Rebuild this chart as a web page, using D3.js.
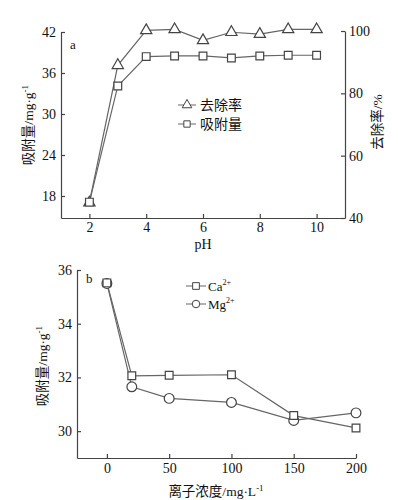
<!DOCTYPE html>
<html><head><meta charset="utf-8">
<script src="https://cdn.jsdelivr.net/npm/d3@7"></script>
<style>
body{margin:0;background:#fff}
text{font-family:"Liberation Serif","Noto Sans CJK SC",serif;fill:#111}
</style></head>
<body><svg id="c" width="398" height="500"></svg>
<script>
// Chart a data
const pH = [2,3,4,5,6,7,8,9,10];
const adsorptionA = [17.1,34.1,38.4,38.5,38.5,38.2,38.5,38.6,38.6];
const removalA = [44.9,89.0,100.2,100.5,97.0,99.6,99.0,100.5,100.5];
const xTicksA = [2,4,6,8,10];
const yLeftTicksA = [18,24,30,36,42];
const yRightTicksA = [40,60,80,100];
// Chart b data
const conc = [0,20,50,100,150,200];
const ca = [35.52,32.06,32.08,32.1,30.58,30.12];
const mg = [35.5,31.65,31.22,31.07,30.4,30.68];
const xTicksB = [0,50,100,150,200];
const yTicksB = [30,32,34,36];

const svg = d3.select("#c");
const axisCol = "#444", lineCol = "#666", mkCol = "#444";

function styleAxis(g){
  g.select(".domain").attr("stroke",axisCol).attr("stroke-width",1.2);
  g.selectAll(".tick line").attr("stroke",axisCol).attr("stroke-width",1.2);
  g.selectAll(".tick text").style("font-size","14px").attr("fill","#111");
}

// ---------- Chart a ----------
const xa = d3.scaleLinear().domain([1,11]).range([61,345]);
const yl = d3.scaleLinear().domain([14.78,42]).range([218,32]);
const yr = d3.scaleLinear().domain([40,100]).range([218,31]);

const gxA = svg.append("g").attr("transform","translate(0,218)")
  .call(d3.axisBottom(xa).tickValues(xTicksA).tickFormat(d3.format("d")).tickSizeInner(-4).tickSizeOuter(0).tickPadding(4));
styleAxis(gxA);
const glA = svg.append("g").attr("transform","translate(61,0)")
  .call(d3.axisLeft(yl).tickValues(yLeftTicksA).tickFormat(d3.format("d")).tickSizeInner(-4).tickSizeOuter(0).tickPadding(5));
styleAxis(glA);
const grA = svg.append("g").attr("transform","translate(345,0)")
  .call(d3.axisRight(yr).tickValues(yRightTicksA).tickFormat(d3.format("d")).tickSizeInner(-4).tickSizeOuter(0).tickPadding(4));
styleAxis(grA);

const lineRem = d3.line().x((d,i)=>xa(pH[i])).y(d=>yr(d));
const lineAds = d3.line().x((d,i)=>xa(pH[i])).y(d=>yl(d));
svg.append("path").attr("d",lineRem(removalA)).attr("fill","none").attr("stroke",lineCol).attr("stroke-width",1.2);
svg.append("path").attr("d",lineAds(adsorptionA)).attr("fill","none").attr("stroke",lineCol).attr("stroke-width",1.2);

const tri = d3.symbol().type(d3.symbolTriangle).size(55);
const sq = d3.symbol().type(d3.symbolSquare).size(60);
const circ = d3.symbol().type(d3.symbolCircle).size(75);

svg.selectAll(".tri").data(removalA).enter().append("path")
  .attr("d",tri).attr("transform",(d,i)=>`translate(${xa(pH[i])},${yr(d)})`)
  .attr("fill","#fff").attr("stroke",mkCol).attr("stroke-width",1.2);
svg.selectAll(".sq").data(adsorptionA).enter().append("path")
  .attr("d",sq).attr("transform",(d,i)=>`translate(${xa(pH[i])},${yl(d)})`)
  .attr("fill","#fff").attr("stroke",mkCol).attr("stroke-width",1.2);

svg.append("text").attr("x",70).attr("y",49).style("font-size","13px").text("a");

// legend a
const legA = [{t:"去除率",type:d3.symbolTriangle,y:105},{t:"吸附量",type:d3.symbolSquare,y:124}];
legA.forEach(l=>{
  svg.append("line").attr("x1",178).attr("x2",196).attr("y1",l.y).attr("y2",l.y).attr("stroke",lineCol).attr("stroke-width",1);
  svg.append("path").attr("d",d3.symbol().type(l.type).size(40)()).attr("transform",`translate(187,${l.y})`).attr("fill","#fff").attr("stroke",mkCol);
  svg.append("text").attr("x",200).attr("y",l.y+5).style("font-size","14px").text(l.t);
});

// axis titles a
const tl = svg.append("text").attr("transform","translate(33,125) rotate(-90)").attr("text-anchor","middle").style("font-size","13.5px");
tl.append("tspan").text("吸附量/mg·g");
tl.append("tspan").attr("dy",-5).style("font-size","9px").text("-1");
svg.append("text").attr("transform","translate(382,122) rotate(-90)").attr("text-anchor","middle").style("font-size","13.5px").text("去除率/%");
svg.append("text").attr("x",203).attr("y",249).attr("text-anchor","middle").style("font-size","14px").text("pH");

// ---------- Chart b ----------
const xb = d3.scaleLinear().domain([-24,200]).range([77,356]);
const yb = d3.scaleLinear().domain([29,36]).range([458,270]);

const gxB = svg.append("g").attr("transform","translate(0,458)")
  .call(d3.axisBottom(xb).tickValues(xTicksB).tickFormat(d3.format("d")).tickSizeInner(-4).tickSizeOuter(0).tickPadding(5));
styleAxis(gxB);
const gyB = svg.append("g").attr("transform","translate(77,0)")
  .call(d3.axisLeft(yb).tickValues(yTicksB).tickFormat(d3.format("d")).tickSizeInner(-4).tickSizeOuter(0).tickPadding(5));
styleAxis(gyB);

const lineB = d3.line().x((d,i)=>xb(conc[i])).y(d=>yb(d));
svg.append("path").attr("d",lineB(ca)).attr("fill","none").attr("stroke",lineCol).attr("stroke-width",1.2);
svg.append("path").attr("d",lineB(mg)).attr("fill","none").attr("stroke",lineCol).attr("stroke-width",1.2);

svg.selectAll(".mc").data(mg).enter().append("path")
  .attr("d",circ).attr("transform",(d,i)=>`translate(${xb(conc[i])},${yb(d)})`)
  .attr("fill","#fff").attr("stroke",mkCol).attr("stroke-width",1.2);
svg.selectAll(".cs").data(ca).enter().append("path")
  .attr("d",sq).attr("transform",(d,i)=>`translate(${xb(conc[i])},${yb(d)})`)
  .attr("fill","#fff").attr("stroke",mkCol).attr("stroke-width",1.2);

svg.append("text").attr("x",86).attr("y",283).style("font-size","13px").text("b");

// legend b
const legB = [{t:"Ca",type:d3.symbolSquare,y:286},{t:"Mg",type:d3.symbolCircle,y:304}];
legB.forEach(l=>{
  svg.append("line").attr("x1",186).attr("x2",206).attr("y1",l.y).attr("y2",l.y).attr("stroke",lineCol).attr("stroke-width",1);
  svg.append("path").attr("d",d3.symbol().type(l.type).size(45)()).attr("transform",`translate(196,${l.y})`).attr("fill","#fff").attr("stroke",mkCol);
  const t = svg.append("text").attr("x",208).attr("y",l.y+5).style("font-size","13px");
  t.append("tspan").text(l.t);
  t.append("tspan").attr("dy",-6).style("font-size","8px").text("2+");
});

const tlb = svg.append("text").attr("transform","translate(47,366) rotate(-90)").attr("text-anchor","middle").style("font-size","13.5px");
tlb.append("tspan").text("吸附量/mg·g");
tlb.append("tspan").attr("dy",-5).style("font-size","9px").text("-1");
const txb = svg.append("text").attr("x",216).attr("y",496).attr("text-anchor","middle").style("font-size","13.5px");
txb.append("tspan").text("离子浓度/mg·L");
txb.append("tspan").attr("dy",-5).style("font-size","9px").text("-1");
</script></body></html>
